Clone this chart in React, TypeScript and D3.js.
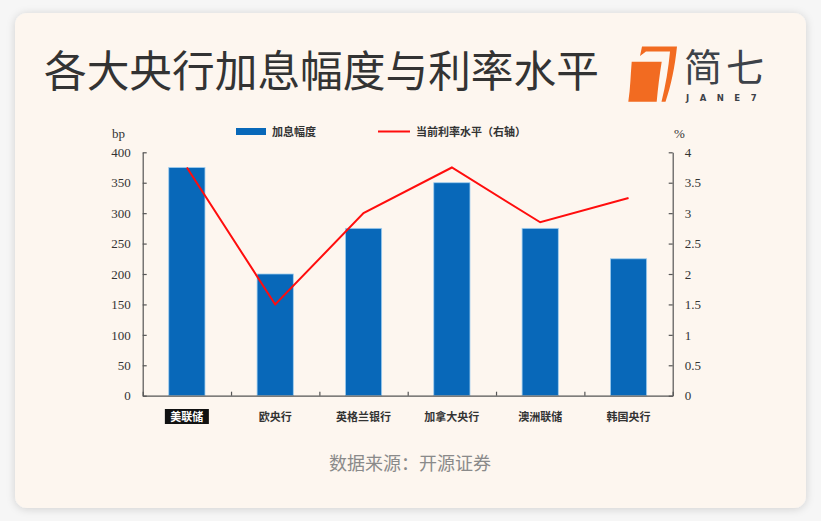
import React, { useEffect, useRef } from 'react';
import * as d3 from 'd3';

const categories = ['美联储', '欧央行', '英格兰银行', '加拿大央行', '澳洲联储', '韩国央行'];
const hikeBp = [375, 200, 275, 350, 275, 225];
const ratePct = [3.75, 1.5, 3.0, 3.75, 2.85, 3.25];
const bpTicks = [0, 50, 100, 150, 200, 250, 300, 350, 400];
const pctTicks = [0, 0.5, 1, 1.5, 2, 2.5, 3, 3.5, 4];

const CJK = '"Noto Sans CJK SC", "Noto Sans", sans-serif';
const SERIF = '"Liberation Serif", "DejaVu Serif", serif';

const App: React.FC = () => {
  const ref = useRef<SVGSVGElement>(null);

  useEffect(() => {
    if (!ref.current) return;
    const svg = d3.select(ref.current);
    svg.selectAll('*').remove();

    const W = 821;
    const H = 521;
    const plot = { left: 142.7, right: 672.7, top: 152.3, bottom: 395.7 };

    // background + card
    svg.append('rect').attr('width', W).attr('height', H).attr('fill', '#f6f6f6');
    const defs = svg.append('defs');
    const f = defs.append('filter').attr('id', 'shadow').attr('x', '-10%').attr('y', '-10%')
      .attr('width', '120%').attr('height', '120%');
    f.append('feDropShadow').attr('dx', 0).attr('dy', 1).attr('stdDeviation', 4)
      .attr('flood-color', '#000').attr('flood-opacity', 0.16);
    svg.append('rect')
      .attr('x', 15).attr('y', 13).attr('width', 791).attr('height', 495)
      .attr('rx', 12).attr('fill', '#fdf6ef').attr('filter', 'url(#shadow)');

    // title
    svg.append('text')
      .attr('x', 44).attr('y', 87)
      .attr('font-family', CJK).attr('font-size', 42.7).attr('fill', '#333')
      .text('各大央行加息幅度与利率水平');

    // logo
    const logo = svg.append('g');
    logo.append('path')
      .attr('d', 'M631.7,61.7 L661.7,61.7 C659.5,75 658,88 656.7,101.7 L628.3,101.7 C630.5,88 630.5,75 631.7,61.7 Z')
      .attr('fill', '#f26b21');
    logo.append('path')
      .attr('d', 'M642,46.5 L677,46.5 C675,66 671,86 665.5,101.7 L661.5,101.7 C665.5,86 668.5,68 670,51.5 L646,51.5 L640,56 Z')
      .attr('fill', '#f26b21');
    logo.append('text')
      .attr('x', 684).attr('y', 80.5)
      .attr('font-family', CJK).attr('font-size', 38).attr('letter-spacing', 4).attr('fill', '#3d4249')
      .text('简七');
    logo.append('text')
      .attr('x', 686).attr('y', 101)
      .attr('font-family', '"DejaVu Sans", sans-serif').attr('font-size', 8.5).attr('font-weight', 700)
      .attr('letter-spacing', 10.5).attr('fill', '#3d4249')
      .text('JANE7');

    const x = d3.scaleBand<string>()
      .domain(categories)
      .range([plot.left, plot.right])
      .paddingInner(0.59)
      .paddingOuter(0.295);
    const yL = d3.scaleLinear().domain([0, 400]).range([plot.bottom, plot.top]);
    const yR = d3.scaleLinear().domain([0, 4]).range([plot.bottom, plot.top]);
    const xEdge = d3.scaleLinear().domain([0, categories.length]).range([plot.left, plot.right]);

    // bars
    svg.append('g').selectAll('rect')
      .data(hikeBp)
      .join('rect')
      .attr('x', (_, i) => x(categories[i])!)
      .attr('y', d => yL(d))
      .attr('width', x.bandwidth())
      .attr('height', d => plot.bottom - yL(d))
      .attr('fill', '#0868b9')
      .attr('stroke', '#9fcdee')
      .attr('stroke-width', 0.8);

    // axes
    const styleAxis = (g: d3.Selection<SVGGElement, unknown, null, undefined>) => {
      g.selectAll('path, line').attr('stroke', '#555').attr('stroke-width', 1.2);
      g.selectAll('text').attr('font-family', SERIF).attr('font-size', 13).attr('fill', '#333');
    };
    svg.append('g')
      .attr('transform', `translate(${plot.left},0)`)
      .call(d3.axisLeft(yL).tickValues(bpTicks).tickSizeInner(-4).tickSizeOuter(0).tickPadding(12))
      .call(styleAxis);
    svg.append('g')
      .attr('transform', `translate(${plot.right},0)`)
      .call(d3.axisRight(yR).tickValues(pctTicks).tickSizeInner(-4).tickSizeOuter(0).tickPadding(12)
        .tickFormat(d => `${d}`))
      .call(styleAxis);
    svg.append('g')
      .attr('transform', `translate(0,${plot.bottom})`)
      .call(d3.axisBottom(xEdge).ticks(categories.length).tickSizeInner(-4).tickSizeOuter(0)
        .tickFormat(() => ''))
      .call(styleAxis);

    // rate line
    const line = d3.line<number>()
      .x((_, i) => x(categories[i])! + x.bandwidth() / 2)
      .y(d => yR(d));
    svg.append('path')
      .datum(ratePct)
      .attr('d', line)
      .attr('fill', 'none')
      .attr('stroke', '#ff0d0d')
      .attr('stroke-width', 2);

    // category labels
    const labels = svg.append('g');
    categories.forEach((c, i) => {
      const cx = x(c)! + x.bandwidth() / 2;
      if (i === 0) {
        labels.append('rect')
          .attr('x', cx - 22).attr('y', 409).attr('width', 44).attr('height', 15)
          .attr('fill', '#111');
      }
      labels.append('text')
        .attr('x', cx).attr('y', 420.5)
        .attr('text-anchor', 'middle')
        .attr('font-family', CJK).attr('font-size', 11).attr('font-weight', 600)
        .attr('fill', i === 0 ? '#fff' : '#333')
        .text(c);
    });

    // unit labels
    svg.append('text').attr('x', 112).attr('y', 138)
      .attr('font-family', SERIF).attr('font-size', 13).attr('fill', '#333').text('bp');
    svg.append('text').attr('x', 674).attr('y', 138)
      .attr('font-family', SERIF).attr('font-size', 13).attr('fill', '#333').text('%');

    // legend
    const lg = svg.append('g');
    lg.append('rect').attr('x', 236).attr('y', 128).attr('width', 30).attr('height', 7).attr('fill', '#0868b9');
    lg.append('text').attr('x', 272).attr('y', 135.5)
      .attr('font-family', CJK).attr('font-size', 11).attr('font-weight', 600).attr('fill', '#333')
      .text('加息幅度');
    lg.append('line').attr('x1', 378).attr('x2', 410).attr('y1', 131.5).attr('y2', 131.5)
      .attr('stroke', '#ff0d0d').attr('stroke-width', 2);
    lg.append('text').attr('x', 416).attr('y', 135.5)
      .attr('font-family', CJK).attr('font-size', 11).attr('font-weight', 600).attr('fill', '#333')
      .text('当前利率水平（右轴）');

    // source
    svg.append('text')
      .attr('x', 410).attr('y', 470)
      .attr('text-anchor', 'middle')
      .attr('font-family', CJK).attr('font-size', 18).attr('fill', '#8a8a8a')
      .text('数据来源：开源证券');
  }, []);

  return (
    <div style={{ position: 'fixed', left: 0, top: 0 }}>
      <svg ref={ref} width={821} height={521} style={{ display: 'block' }} />
    </div>
  );
};

export default App;
